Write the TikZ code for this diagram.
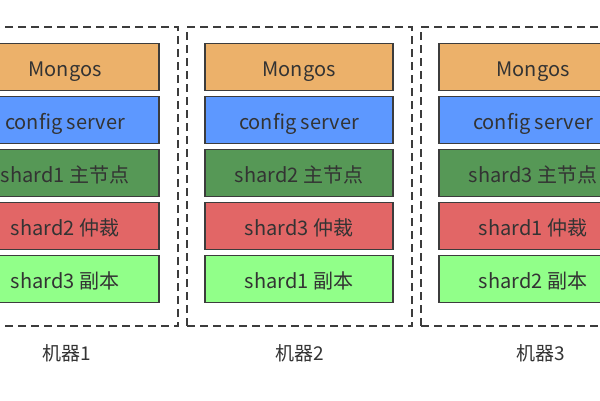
\documentclass[tikz,border=0pt]{standalone}
\usepackage{fontspec}
\setmainfont{Noto Sans CJK SC}
\usepackage{xcolor}
\usetikzlibrary{positioning}

\definecolor{mongoscol}{RGB}{236,177,106}
\definecolor{configcol}{RGB}{93,152,255}
\definecolor{primarycol}{RGB}{86,152,86}
\definecolor{arbitercol}{RGB}{226,102,102}
\definecolor{replicacol}{RGB}{145,255,137}
\definecolor{edgegray}{RGB}{60,60,60}
\definecolor{textgray}{RGB}{51,51,51}

\begin{document}
\begin{tikzpicture}[x=1pt,y=-1pt,
    layer/.style={draw=edgegray, line width=1.5pt, minimum width=188pt,
        minimum height=47pt, inner sep=0pt, text=textgray,
        text height=19pt, text depth=1pt,
        font=\fontsize{20}{24}\selectfont},
    machine/.style={draw=edgegray, line width=1.2pt, dash pattern=on 8pt off 5pt,
        minimum width=225pt, minimum height=299pt, inner sep=0pt},
    hostlabel/.style={text=textgray, font=\fontsize{19}{22}\selectfont}]
    \useasboundingbox (0,0) rectangle (600,400);

    % One column per machine: Mongos, config server and three shard members
    \foreach \m/\cx/\lx/\p/\a/\r in {1/65/67/1/2/3, 2/299/300/2/3/1, 3/533/541/3/1/2} {
        \node[machine] (machine\m) at ({\cx+0.5},176.5) {};

        \node[layer, fill=mongoscol] (mongos\m) at (\cx,67) {Mongos};
        \node[layer, fill=configcol, below=4.5pt of mongos\m] (config\m) {config server};
        \node[layer, fill=primarycol, below=4.5pt of config\m] (primary\m) {shard\p{} 主节点};
        \node[layer, fill=arbitercol, below=4.5pt of primary\m] (arbiter\m) {shard\a{} 仲裁};
        \node[layer, fill=replicacol, below=4.5pt of arbiter\m] (replica\m) {shard\r{} 副本};

        \node[hostlabel] (host\m) at (\lx,353) {机器\m};
    }
\end{tikzpicture}
\end{document}
